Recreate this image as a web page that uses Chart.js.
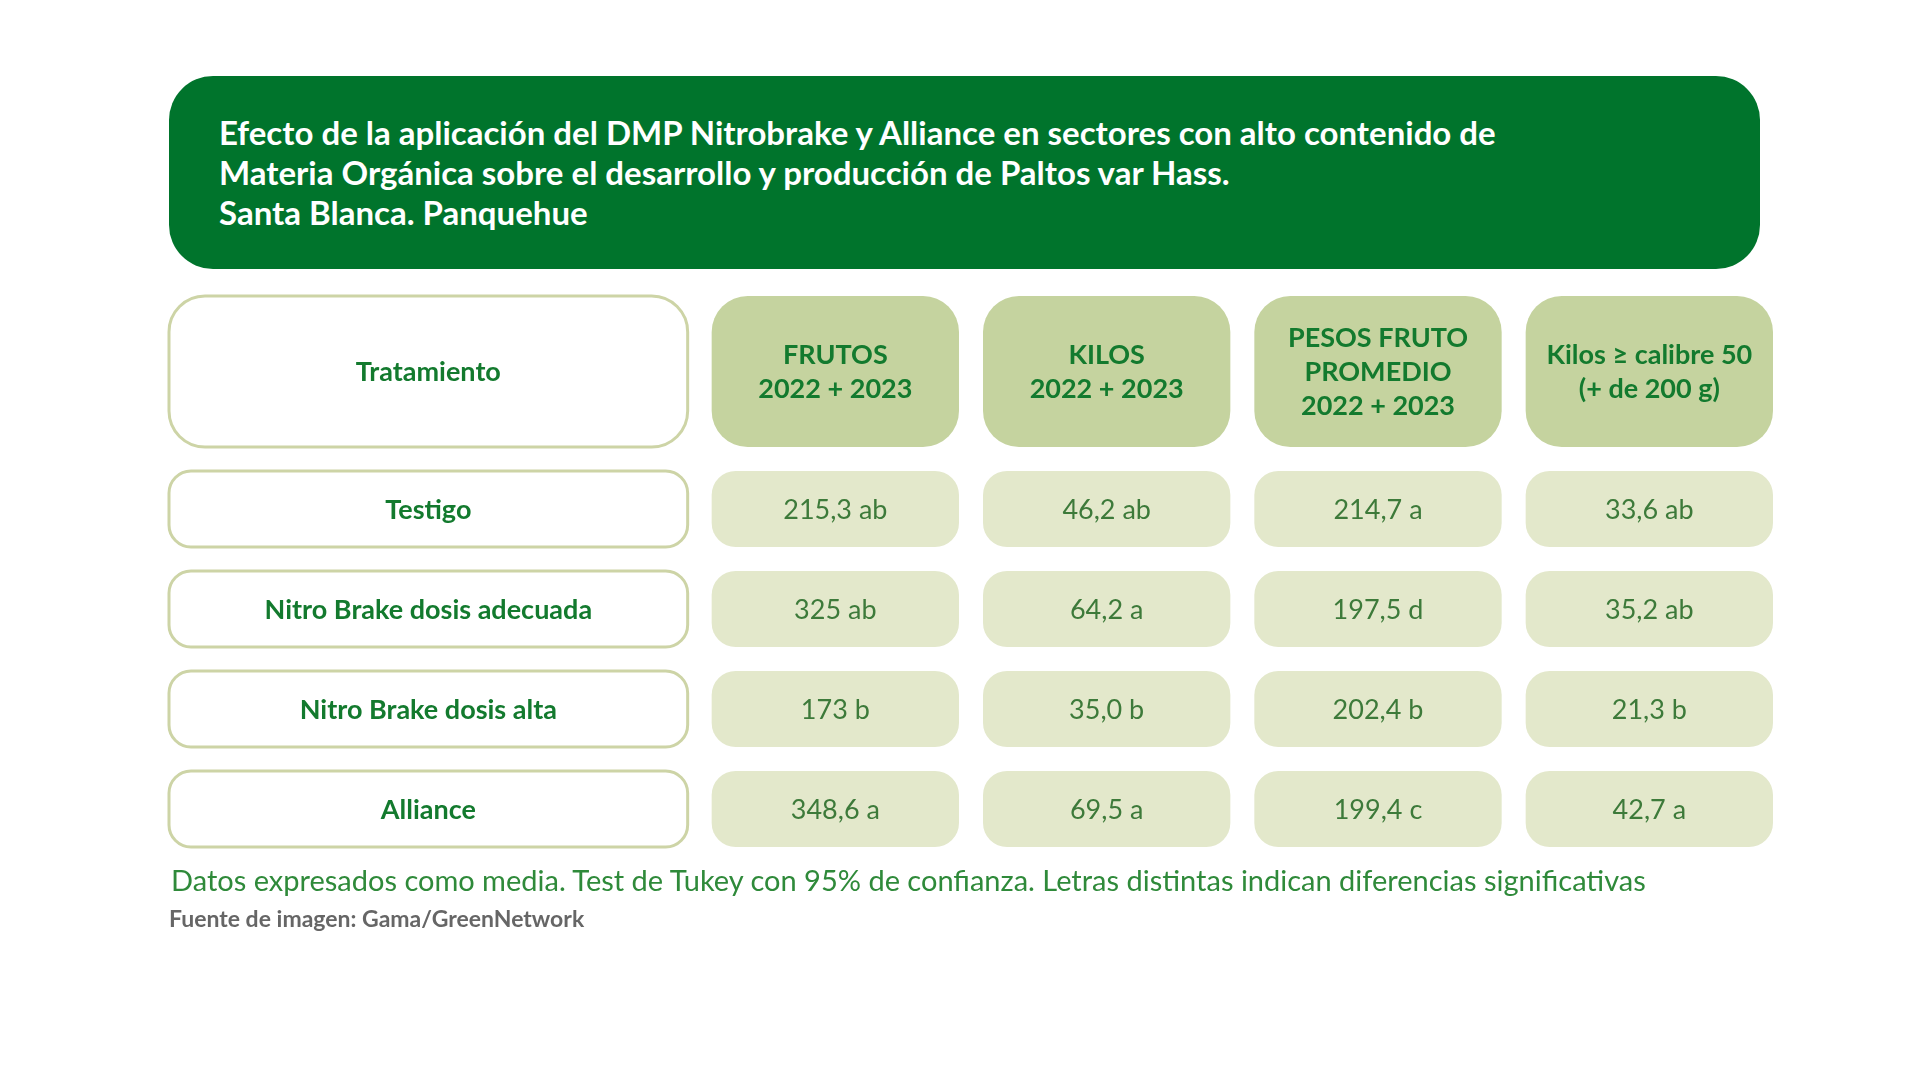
<!DOCTYPE html>
<html><head><meta charset="utf-8">
<script src="https://cdn.jsdelivr.net/npm/chart.js@4"></script>
<style>
body{margin:0;width:1921px;height:1081px;background:#fff;font-family:Lato,"Open Sans",sans-serif;position:relative;overflow:hidden}
#title{position:absolute;left:169px;top:76px;width:1591px;height:193px;background:#00742c;border-radius:44px;box-sizing:border-box;padding:36px 0 0 50px;color:#fff;font-weight:bold;font-size:33px;line-height:40px}
#wrap{position:absolute;left:0;top:0;width:1921px;height:1081px}
#nota{position:absolute;left:171px;top:862px;font-size:29px;color:#2f8a3a}
#fuente{position:absolute;left:169px;top:904px;font-size:23px;font-weight:bold;color:#666}
</style></head><body>
<div id="wrap"><canvas id="c"></canvas></div>
<div id="title">Efecto de la aplicación del DMP Nitrobrake y Alliance en sectores con alto contenido de<br>Materia Orgánica sobre el desarrollo y producción de Paltos var Hass.<br>Santa Blanca. Panquehue</div>
<div id="nota">Datos expresados como media. Test de Tukey con 95% de confianza. Letras distintas indican diferencias significativas</div>
<div id="fuente">Fuente de imagen: Gama/GreenNetwork</div>
<script>
const columnas = [['FRUTOS','2022 + 2023'], ['KILOS','2022 + 2023'], ['PESOS FRUTO','PROMEDIO','2022 + 2023'], ['Kilos ≥ calibre 50','(+ de 200 g)']];
const tratamientos = ['Testigo', 'Nitro Brake dosis adecuada', 'Nitro Brake dosis alta', 'Alliance'];
const frutos = ['215,3 ab', '325 ab', '173 b', '348,6 a'];
const kilos = ['46,2 ab', '64,2 a', '35,0 b', '69,5 a'];
const pesos = ['214,7 a', '197,5 d', '202,4 b', '199,4 c'];
const calibre = ['33,6 ab', '35,2 ab', '21,3 b', '42,7 a'];
const series = [frutos, kilos, pesos, calibre];

function rr(ctx, x, y, w, h, r) {
  ctx.beginPath(); ctx.roundRect(x, y, w, h, r);
}

const tablePlugin = {
  id: 'tabla',
  afterDraw(chart) {
    const ctx = chart.ctx, xs = chart.scales.x, ys = chart.scales.y;
    const g = 24;
    const cell = (x0, x1, y0, y1) => {
      const a = xs.getPixelForValue(x0) + g / 2, b = xs.getPixelForValue(x1) - g / 2;
      const c = ys.getPixelForValue(y0) + g / 2, d = ys.getPixelForValue(y1) - g / 2;
      return {x: a, y: c, w: b - a, h: d - c};
    };
    const rowY = i => [1.75 + i, 2.75 + i];
    ctx.save();
    ctx.textAlign = 'center'; ctx.textBaseline = 'middle';
    // columna tratamiento
    const h0 = cell(0, 2, 0, 1.75);
    const boxes = [[h0, 'Tratamiento']];
    tratamientos.forEach((t, i) => boxes.push([cell(0, 2, ...rowY(i)), t]));
    boxes.forEach(([b, t]) => {
      rr(ctx, b.x, b.y, b.w, b.h, b === h0 ? 36 : 22);
      ctx.fillStyle = '#fff'; ctx.fill();
      ctx.lineWidth = 3; ctx.strokeStyle = '#cdd4a6'; ctx.stroke();
      ctx.fillStyle = '#137a2e'; ctx.font = 'bold 27px Lato';
      ctx.fillText(t, b.x + b.w / 2, b.y + b.h / 2 + 1);
    });
    columnas.forEach((lines, j) => {
      const b = cell(2 + j, 3 + j, 0, 1.75);
      rr(ctx, b.x, b.y, b.w, b.h, 36);
      ctx.fillStyle = '#c5d39f'; ctx.fill();
      ctx.fillStyle = '#137a2e'; ctx.font = 'bold 27px Lato';
      const lh = 34, y0 = b.y + b.h / 2 - (lines.length - 1) * lh / 2;
      lines.forEach((l, k) => ctx.fillText(l, b.x + b.w / 2, y0 + k * lh + 1));
      series[j].forEach((v, i) => {
        const c = cell(2 + j, 3 + j, ...rowY(i));
        rr(ctx, c.x, c.y, c.w, c.h, 24);
        ctx.fillStyle = '#e3e8cb'; ctx.fill();
        ctx.fillStyle = '#3d7a3a'; ctx.font = '27px Lato';
        ctx.fillText(v, c.x + c.w / 2, c.y + c.h / 2 + 1);
      });
    });
    ctx.restore();
  }
};

new Chart(document.getElementById('c'), {
  type: 'scatter',
  data: {datasets: [{data: [], pointRadius: 0}]},
  options: {
    responsive: true, maintainAspectRatio: false, animation: false,
    layout: {padding: {left: 157, right: 136, top: 284, bottom: 222}},
    plugins: {legend: {display: false}, tooltip: {enabled: false}},
    scales: {
      x: {type: 'linear', min: 0, max: 6, display: false},
      y: {type: 'linear', min: 0, max: 5.75, reverse: true, display: false}
    }
  },
  plugins: [tablePlugin]
});
</script>
</body></html>
